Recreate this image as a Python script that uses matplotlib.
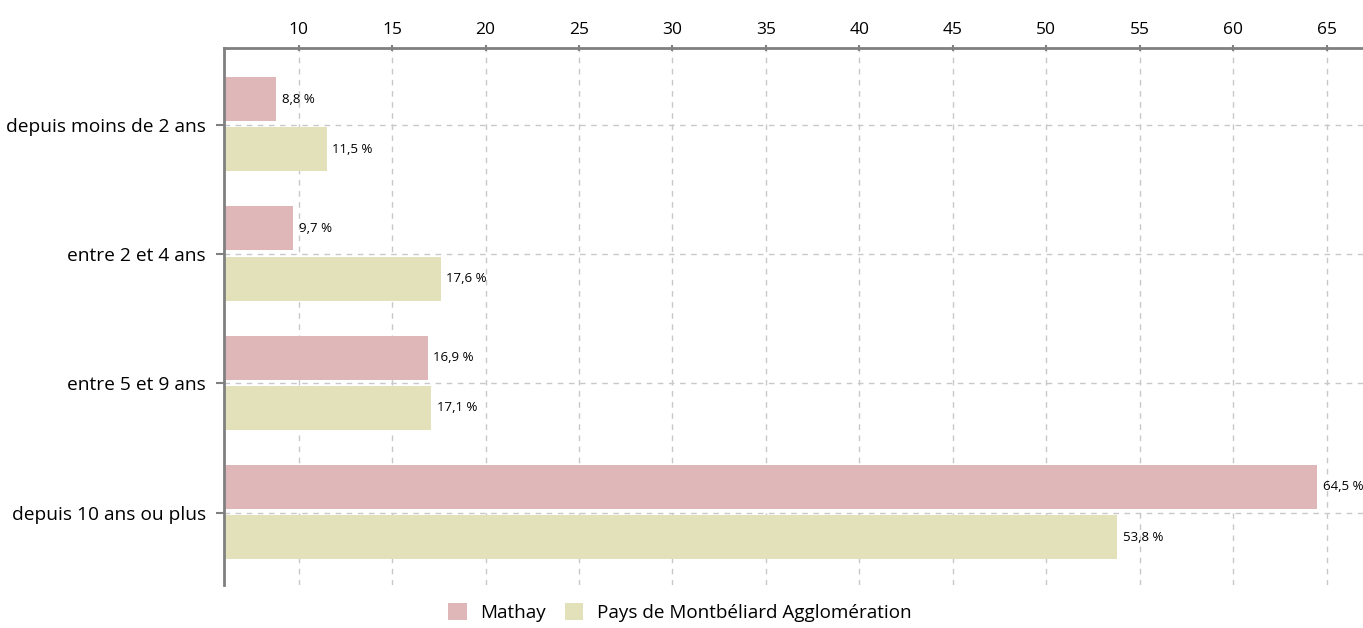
import numpy as np
import matplotlib.pyplot as plt
from matplotlib.patches import Patch

categories = ["depuis moins de 2 ans", "entre 2 et 4 ans", "entre 5 et 9 ans", "depuis 10 ans ou plus"]
mathay = [8.8, 9.7, 16.9, 64.5]
pma = [11.5, 17.6, 17.1, 53.8]
series_names = ["Mathay", "Pays de Montbéliard Agglomération"]
xticks = [10, 15, 20, 25, 30, 35, 40, 45, 50, 55, 60, 65]

PINK = "#e0b7b9"
BEIGE = "#e3e1b9"
GREY = "#808080"

plt.rcParams["font.family"] = ["Open Sans", "DejaVu Sans"]

fig = plt.figure(figsize=(13.63, 6.28), dpi=100)
ax = fig.add_axes([224 / 1363, 43 / 628, 1 - 224 / 1363, (585 - 48) / 628])

y = np.arange(len(categories))
h = 0.34
xmin = 6.0
ax.barh(y - 0.2, np.array(mathay) - xmin, left=xmin, height=h, color=PINK, zorder=2)
ax.barh(y + 0.19, np.array(pma) - xmin, left=xmin, height=h, color=BEIGE, zorder=2)

# value labels, french decimal comma
for yi, v in zip(y - 0.2, mathay):
    ax.text(v + 0.3, yi, f"{v:.1f} %".replace(".", ","), va="center", ha="left", fontsize=9.5)
for yi, v in zip(y + 0.19, pma):
    ax.text(v + 0.3, yi, f"{v:.1f} %".replace(".", ","), va="center", ha="left", fontsize=9.5)

ax.set_xlim(xmin, 66.95)
ax.set_ylim(3.56, -0.595)
ax.xaxis.tick_top()
ax.set_xticks(xticks)
ax.set_yticks(y)
ax.set_yticklabels(categories)
ax.tick_params(axis="x", labelsize=12.5, length=5, width=1.5, color=GREY, direction="inout", pad=5)
ax.tick_params(axis="y", labelsize=13.8, length=6, width=1.5, color=GREY, pad=7)

ax.grid(True, linestyle=(0, (4, 4)), color="#c8c8c8", linewidth=1, zorder=0)
ax.set_axisbelow(True)

for s in ["right", "bottom"]:
    ax.spines[s].set_visible(False)
for s in ["top", "left"]:
    ax.spines[s].set_color(GREY)
    ax.spines[s].set_linewidth(2)

handles = [Patch(facecolor=PINK, label=series_names[0]), Patch(facecolor=BEIGE, label=series_names[1])]
fig.legend(handles=handles, loc="center", bbox_to_anchor=(0.4986, 0.025), ncol=2, frameon=False,
           fontsize=13.6, handlelength=1.0, handleheight=1.0, columnspacing=1.0, handletextpad=0.7,
           borderpad=0)

fig.savefig("out.png", dpi=100)
